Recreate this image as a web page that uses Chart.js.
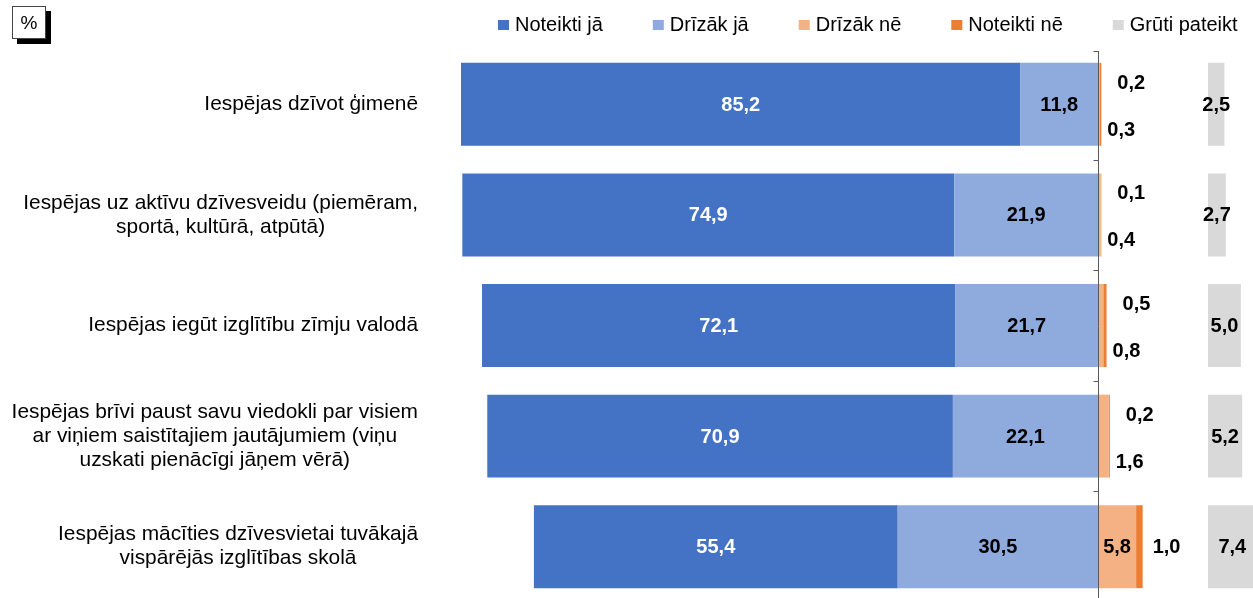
<!DOCTYPE html>
<html>
<head>
<meta charset="utf-8">
<script src="https://cdn.jsdelivr.net/npm/chart.js@4.4.1/dist/chart.umd.min.js"></script>
<style>
  html, body { margin: 0; padding: 0; background: #fff; overflow: hidden; }
  #wrap { position: relative; width: 1253px; height: 598px; overflow: hidden; }
  #c { position: absolute; left: 0; top: 0; }
  #pct {
    position: absolute; left: 12px; top: 6px; width: 32px; height: 31px;
    border: 1px solid #444; background: #fff; box-shadow: 5px 5px 0 #000;
    font: 19px "Liberation Sans", Arial, sans-serif; color: #000;
    display: flex; align-items: center; justify-content: center;
  }
</style>
</head>
<body>
<div id="wrap">
  <canvas id="c" width="1253" height="604"></canvas>
  <div id="pct">%</div>
</div>
<script>
// ---- data ----
const categories = [
  ["Iespējas dzīvot ģimenē"],
  ["Iespējas uz aktīvu dzīvesveidu (piemēram,", "sportā, kultūrā, atpūtā)"],
  ["Iespējas iegūt izglītību zīmju valodā"],
  ["Iespējas brīvi paust savu viedokli par visiem", "ar viņiem saistītajiem jautājumiem (viņu", "uzskati pienācīgi jāņem vērā)"],
  ["Iespējas mācīties dzīvesvietai tuvākajā", "vispārējās izglītības skolā"]
];
const seriesNames = ["Noteikti jā", "Drīzāk jā", "Drīzāk nē", "Noteikti nē", "Grūti pateikt"];
const noteiktiJa   = [85.2, 74.9, 72.1, 70.9, 55.4];
const drizakJa     = [11.8, 21.9, 21.7, 22.1, 30.5];
const drizakNe     = [0.3, 0.4, 0.8, 1.6, 5.8];
const noteiktiNe   = [0.2, 0.1, 0.5, 0.2, 1.0];
const grutiPateikt = [2.5, 2.7, 5.0, 5.2, 7.4];

// ---- styles / layout ----
const COLORS = ["#4472C4", "#8FAADC", "#F4B183", "#ED7D31", "#D9D9D9"];
const FONT = '"Liberation Sans", Arial, sans-serif';
const X_MIN = -100.2, X_MAX = 23.6;
const GAP = 16.75; // offset of the "Grūti pateikt" column from the axis

const fmt = v => v.toFixed(1).replace('.', ',');

const datasets = [
  { label: seriesNames[1], data: drizakJa.map(v => -v), backgroundColor: COLORS[1], stack: 'a', key: 'dj' },
  { label: seriesNames[0], data: noteiktiJa.map(v => -v), backgroundColor: COLORS[0], stack: 'a', key: 'nj' },
  { label: seriesNames[2], data: drizakNe, backgroundColor: COLORS[2], stack: 'a', key: 'dn' },
  { label: seriesNames[3], data: noteiktiNe, backgroundColor: COLORS[3], stack: 'a', key: 'nn' },
  { label: seriesNames[4], data: grutiPateikt.map(v => [GAP, GAP + v]), backgroundColor: COLORS[4], stack: 'a', xAxisID: 'x2', key: 'gp' }
];

const decor = {
  id: 'decor',
  afterDatasetsDraw(chart) {
    const ctx = chart.ctx;
    const x = chart.scales.x, y = chart.scales.y;
    const area = chart.chartArea;
    const x0 = Math.round(x.getPixelForValue(0)) + 0.5;
    const step = y.getPixelForValue(1) - y.getPixelForValue(0);
    ctx.save();
    // axis line
    ctx.strokeStyle = '#595959';
    ctx.lineWidth = 1;
    ctx.beginPath();
    ctx.moveTo(x0, area.top + 2);
    ctx.lineTo(x0, area.bottom);
    ctx.stroke();
    // category boundary ticks
    for (let i = 0; i < categories.length; i++) {
      const yy = Math.round(y.getPixelForValue(i) - step / 2) + 0.5 + (i === 0 ? 2 : 0);
      ctx.beginPath();
      ctx.moveTo(x0 - 5, yy);
      ctx.lineTo(x0, yy);
      ctx.stroke();
    }

    // data labels
    const metas = {};
    chart.data.datasets.forEach((ds, i) => { metas[ds.key] = chart.getDatasetMeta(i); });
    ctx.font = 'bold 20px ' + FONT;
    ctx.textBaseline = 'middle';
    const center = (el) => (el.x + el.base) / 2;
    for (let i = 0; i < categories.length; i++) {
      const cy = y.getPixelForValue(i);
      const njEl = metas.nj.data[i], djEl = metas.dj.data[i];
      const dnEl = metas.dn.data[i], nnEl = metas.nn.data[i], gpEl = metas.gp.data[i];
      ctx.textAlign = 'center';
      ctx.fillStyle = '#fff';
      ctx.fillText(fmt(noteiktiJa[i]), center(njEl), cy + 1);
      ctx.fillStyle = '#000';
      ctx.fillText(fmt(drizakJa[i]), center(djEl), cy + 1);
      ctx.fillText(fmt(grutiPateikt[i]), center(gpEl), cy + 1);
      const stackEnd = nnEl.x;
      if (drizakNe[i] >= 3) {
        ctx.fillText(fmt(drizakNe[i]), center(dnEl), cy + 1);
        ctx.textAlign = 'left';
        ctx.fillText(fmt(noteiktiNe[i]), stackEnd + 10, cy + 1);
      } else {
        ctx.textAlign = 'left';
        ctx.fillText(fmt(drizakNe[i]), stackEnd + 6, cy + 26);
        ctx.fillText(fmt(noteiktiNe[i]), stackEnd + 16, cy - 21);
      }
    }

    // category labels (centered lines, right-anchored block)
    ctx.font = '20.9px ' + FONT;
    ctx.fillStyle = '#000';
    ctx.textAlign = 'center';
    const RIGHT = 418, LH = 24;
    categories.forEach((lines, i) => {
      const cy = y.getPixelForValue(i);
      const maxW = Math.max(...lines.map(l => ctx.measureText(l).width));
      const cx = RIGHT - maxW / 2;
      const y0 = cy - (lines.length - 1) * LH / 2;
      lines.forEach((l, k) => ctx.fillText(l, cx, y0 + k * LH));
    });

    // legend
    ctx.font = '20px ' + FONT;
    ctx.textAlign = 'left';
    let lx = 498;
    const ly = 25;
    seriesNames.forEach((name, k) => {
      ctx.fillStyle = COLORS[k];
      ctx.fillRect(lx, ly - 5, 11, 10);
      ctx.fillStyle = '#000';
      ctx.fillText(name, lx + 17, ly);
      lx += 17 + ctx.measureText(name).width + 50;
    });
    ctx.restore();
  }
};

new Chart(document.getElementById('c'), {
  type: 'bar',
  data: { labels: categories.map(l => l.join(' ')), datasets },
  options: {
    indexAxis: 'y',
    responsive: false,
    animation: false,
    devicePixelRatio: 1,
    layout: { padding: { left: 440, right: 0, top: 49, bottom: 2 } },
    datasets: { bar: { categoryPercentage: 1, barPercentage: 0.75, borderWidth: 0 } },
    scales: {
      x: { stacked: true, min: X_MIN, max: X_MAX, display: false },
      x2: { stacked: false, min: X_MIN, max: X_MAX, display: false },
      y: { stacked: true, display: false }
    },
    plugins: { legend: { display: false }, tooltip: { enabled: false } }
  },
  plugins: [decor]
});
</script>
</body>
</html>
